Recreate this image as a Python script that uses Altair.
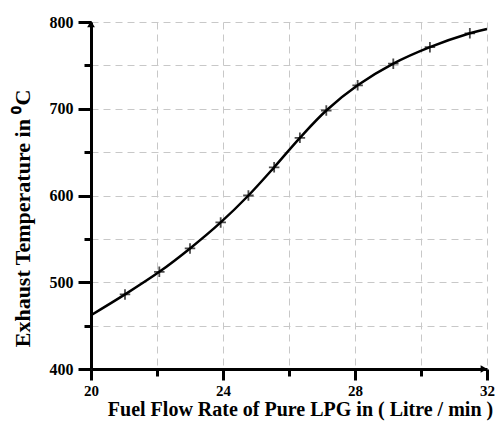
import altair as alt
import pandas as pd

# Data
flow = [20, 21.03, 22.07, 23.0, 23.93, 24.77, 25.55, 26.33, 27.13, 28.08, 29.16, 30.27, 31.48, 32]
temp = [462, 486, 512, 539, 569, 600, 632.5, 666.5, 698, 727, 752, 771, 787, 792]
marked = [False] + [True] * 12 + [False]

x_ticks = [20, 22, 24, 26, 28, 30, 32]
y_ticks = [400, 450, 500, 550, 600, 650, 700, 750, 800]

df = pd.DataFrame({"flow": flow, "temp": temp, "marked": marked})

FONT = "Liberation Serif"

xs = alt.Scale(domain=[20, 32], nice=False, zero=False)
ys = alt.Scale(domain=[400, 800], nice=False, zero=False)

xaxis = alt.Axis(
    values=x_ticks,
    labelExpr="datum.value % 4 == 0 ? datum.label : ''",
    grid=True, gridDash=[7, 5], gridColor="#c8c8c8", gridWidth=1,
    domainColor="black", domainWidth=3,
    tickColor="black", tickWidth=3,
    tickSize={"condition": {"test": "datum.value % 4 == 0", "value": 11}, "value": 7},
    labelFont=FONT, labelFontWeight="bold", labelFontSize=15, labelColor="black",
    labelPadding=3, labelFlush=False,
    title="Fuel Flow Rate of Pure LPG in ( Litre / min )",
    titleFont=FONT, titleFontWeight="bold", titleFontSize=20, titleColor="black",
    titlePadding=1, titleX=209,
)
yaxis = alt.Axis(
    values=y_ticks,
    labelExpr="datum.value % 100 == 0 ? datum.label : ''",
    grid=True, gridDash=[7, 5], gridColor="#c8c8c8", gridWidth=1,
    domainColor="black", domainWidth=3,
    tickColor="black", tickWidth=3,
    tickSize={"condition": {"test": "datum.value % 100 == 0", "value": 13}, "value": 7},
    labelFont=FONT, labelFontWeight="bold", labelFontSize=16, labelColor="black",
    labelPadding=5, labelFlush=False,
    title="Exhaust Temperature in \u2070C",
    titleFont=FONT, titleFontWeight="bold", titleFontSize=22, titleColor="black",
    titlePadding=15, titleY=196,
)

base = alt.Chart(df)

line = base.mark_line(color="black", strokeWidth=2.5, interpolate="catmull-rom").encode(
    x=alt.X("flow:Q", scale=xs, axis=xaxis),
    y=alt.Y("temp:Q", scale=ys, axis=yaxis),
)

pts = base.transform_filter("datum.marked").mark_point(
    shape="M-1,0L1,0M0,-1L0,1", filled=False, color="black", strokeWidth=1.8, size=110
).encode(x=alt.X("flow:Q", scale=xs), y=alt.Y("temp:Q", scale=ys))

arrows_df = pd.DataFrame({"flow": [20, 32], "temp": [800, 400]})
arrow_up = alt.Chart(arrows_df.iloc[[0]]).mark_point(
    shape="triangle-up", filled=True, color="black", size=60, opacity=1, yOffset=2
).encode(x=alt.X("flow:Q", scale=xs), y=alt.Y("temp:Q", scale=ys))
arrow_right = alt.Chart(arrows_df.iloc[[1]]).mark_point(
    shape="triangle-right", filled=True, color="black", size=60, opacity=1, xOffset=-3
).encode(x=alt.X("flow:Q", scale=xs), y=alt.Y("temp:Q", scale=ys))

chart = alt.layer(line, pts, arrow_up, arrow_right).properties(
    width=396, height=347,
    autosize=alt.AutoSizeParams(type="none"),
    padding={"left": 91, "top": 22, "right": 10, "bottom": 56},
    background="white",
).configure_view(stroke=None)

chart.save("out.html", embed_options={"renderer": "svg", "actions": False})
